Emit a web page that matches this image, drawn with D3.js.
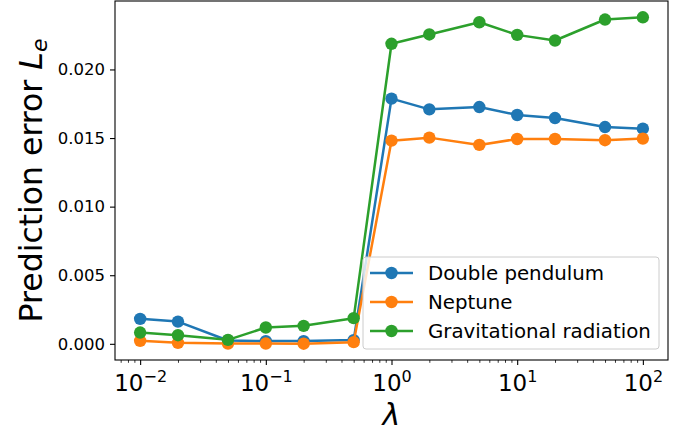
<!DOCTYPE html>
<html><head><meta charset="utf-8">
<script src="https://cdn.jsdelivr.net/npm/d3@7"></script>
<style>body{margin:0;background:#fff}svg{display:block}text{font-family:"DejaVu Sans",sans-serif}</style>
</head><body><svg id="c" width="689" height="435"></svg>
<script>
const lambdas = [0.01, 0.02, 0.05, 0.1, 0.2, 0.5, 1, 2, 5, 10, 20, 50, 100];
const doublePendulum = [0.00182, 0.00162, 0.00024, 0.00020, 0.00020, 0.00027, 0.01787, 0.01709, 0.01726, 0.01668, 0.01646, 0.01580, 0.01568];
const neptune = [0.00022, 0.00007, 0.00002, 0.00002, 0.00001, 0.00012, 0.01481, 0.01503, 0.01450, 0.01493, 0.01493, 0.01484, 0.01496];
const gravitational = [0.00082, 0.00063, 0.00029, 0.00119, 0.00131, 0.00187, 0.02187, 0.02255, 0.02344, 0.02252, 0.02211, 0.02364, 0.02380];
const seriesNames = ["Double pendulum", "Neptune", "Gravitational radiation"];
const seriesColors = ["#1f77b4", "#ff7f0e", "#2ca02c"];
const yTicks = [0.000, 0.005, 0.010, 0.015, 0.020];
const xTickExps = [-2, -1, 0, 1, 2];

const series = [doublePendulum, neptune, gravitational];
const L = 115, R = 668, T = 1, B = 360;
const svg = d3.select("#c");

const x = d3.scaleLog().domain([0.01 / Math.pow(10, 0.2), 100 * Math.pow(10, 0.2)]).range([L, R]);
const allV = series.flat();
const ymin = d3.min(allV), ymax = d3.max(allV), pad = (ymax - ymin) * 0.05;
const y = d3.scaleLinear().domain([ymin - pad, ymax + pad]).range([B, T]);

svg.append("defs").append("clipPath").attr("id", "clip")
  .append("rect").attr("x", L).attr("y", T).attr("width", R - L).attr("height", B - T);

const plot = svg.append("g").attr("clip-path", "url(#clip)");
const line = d3.line().x((d, i) => x(lambdas[i])).y(d => y(d));
series.forEach((s, k) => {
  plot.append("path").datum(s).attr("d", line).attr("fill", "none")
    .attr("stroke", seriesColors[k]).attr("stroke-width", 2.5).attr("stroke-linejoin", "round");
  plot.selectAll(null).data(s).enter().append("circle")
    .attr("cx", (d, i) => x(lambdas[i])).attr("cy", d => y(d)).attr("r", 6.2)
    .attr("fill", seriesColors[k]);
});

svg.append("rect").attr("x", L).attr("y", T).attr("width", R - L).attr("height", B - T)
  .attr("fill", "none").attr("stroke", "#000").attr("stroke-width", 1.1);

const minorTicks = [];
for (let e = -3; e <= 2; e++) for (let m = 2; m <= 9; m++) {
  const v = m * Math.pow(10, e);
  if (v >= x.domain()[0] && v <= x.domain()[1]) minorTicks.push(v);
}
const xAxisMinor = d3.axisBottom(x).tickValues(minorTicks).tickSize(2.8).tickFormat("");
const gxm = svg.append("g").attr("transform", `translate(0,${B})`).call(xAxisMinor);
gxm.select(".domain").remove();
gxm.selectAll("line").attr("stroke-width", 0.8);

const xAxis = d3.axisBottom(x).tickValues(xTickExps.map(e => Math.pow(10, e))).tickSize(5).tickFormat("");
const gx = svg.append("g").attr("transform", `translate(0,${B})`).call(xAxis);
gx.select(".domain").remove();
gx.selectAll("line").attr("stroke-width", 1.1);
gx.selectAll(".tick").each(function (d, i) {
  const t = d3.select(this).append("text").attr("y", 31).attr("text-anchor", "middle")
    .attr("fill", "#000").attr("font-size", 23).attr("font-family", "DejaVu Sans");
  t.append("tspan").text("10");
  const ex = xTickExps[i];
  t.append("tspan").attr("dy", -9.5).attr("font-size", 16).text(ex < 0 ? "\u2212" + (-ex) : String(ex));
});

const yAxis = d3.axisLeft(y).tickValues(yTicks).tickSize(5).tickPadding(5).tickFormat(d3.format(".3f"));
const gy = svg.append("g").attr("transform", `translate(${L},0)`).call(yAxis);
gy.select(".domain").remove();
gy.selectAll("line").attr("stroke-width", 1.1);
gy.selectAll("text").attr("font-size", 16.5).attr("font-family", "DejaVu Sans").attr("fill", "#000");

svg.append("text").attr("x", (L + R) / 2).attr("y", 425).attr("text-anchor", "middle")
  .attr("font-size", 30).attr("font-style", "italic").attr("fill", "#000").text("\u03bb");
const yl = svg.append("text").attr("transform", `translate(42,${(T + B) / 2}) rotate(-90)`)
  .attr("text-anchor", "middle").attr("font-size", 31.5).attr("fill", "#000");
yl.append("tspan").text("Prediction error ");
yl.append("tspan").attr("font-style", "italic").text("L");
yl.append("tspan").attr("font-style", "italic").attr("font-size", 22).attr("dy", 5).text("e");

const lg = svg.append("g");
lg.append("rect").attr("x", 363).attr("y", 257).attr("width", 296).attr("height", 92).attr("rx", 3)
  .attr("fill", "#fff").attr("fill-opacity", 0.8).attr("stroke", "#ccc").attr("stroke-width", 1);
seriesNames.forEach((n, k) => {
  const yy = 273 + k * 29;
  lg.append("line").attr("x1", 370).attr("x2", 413).attr("y1", yy).attr("y2", yy)
    .attr("stroke", seriesColors[k]).attr("stroke-width", 2.5);
  lg.append("circle").attr("cx", 391.5).attr("cy", yy).attr("r", 6.2).attr("fill", seriesColors[k]);
  lg.append("text").attr("x", 428).attr("y", yy).attr("dy", "0.36em").attr("font-size", 19.8)
    .attr("fill", "#000").text(n);
});
</script></body></html>
